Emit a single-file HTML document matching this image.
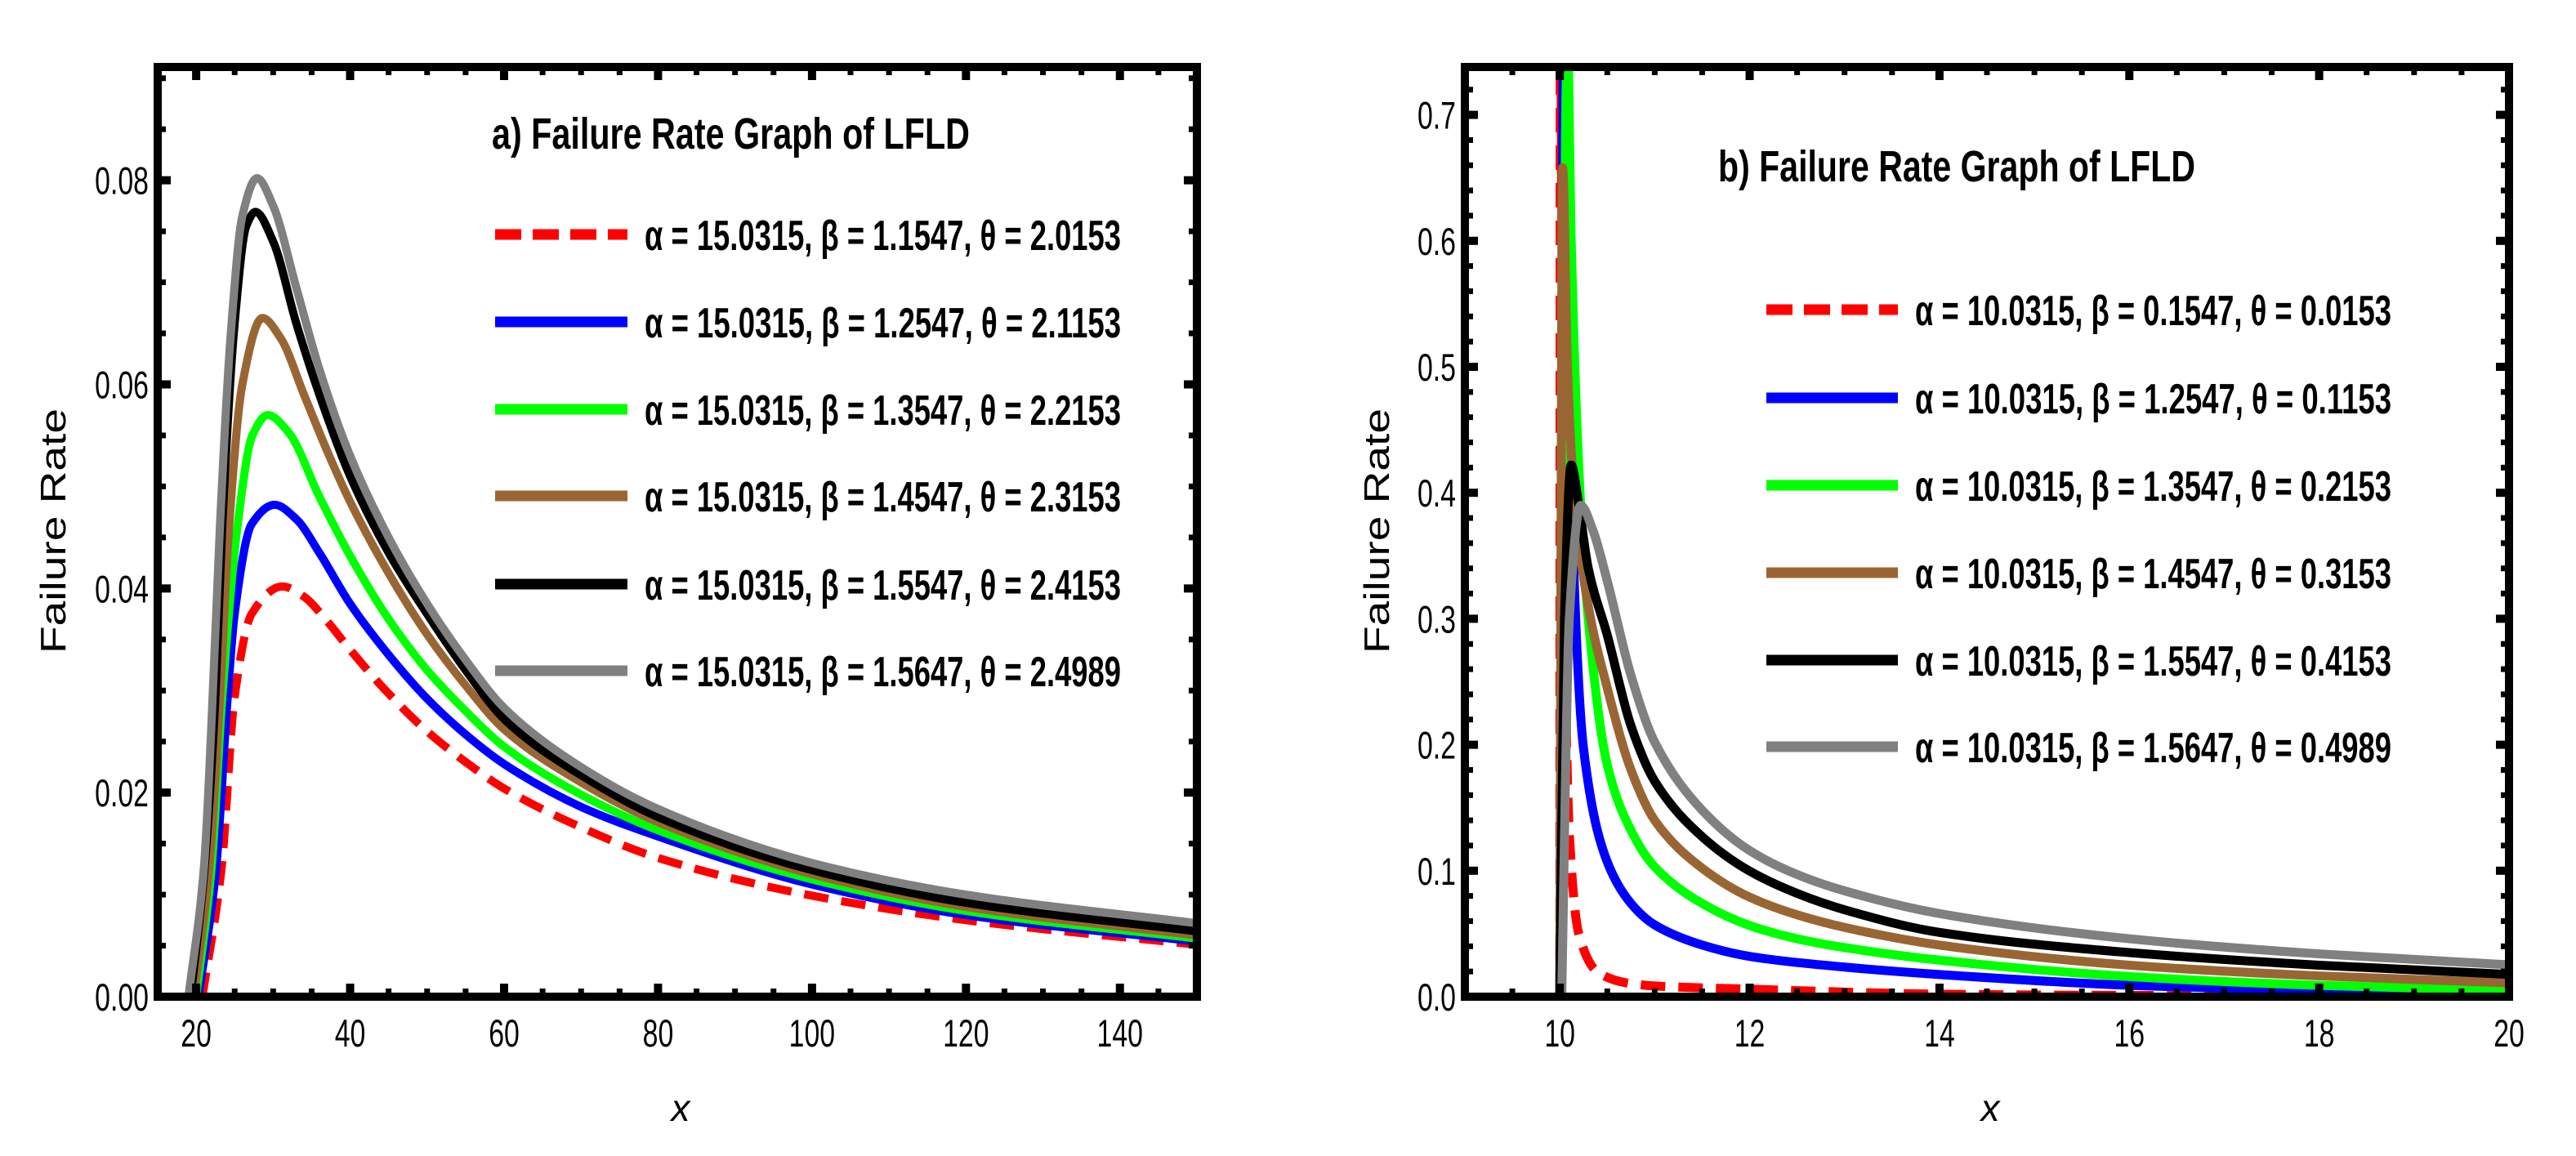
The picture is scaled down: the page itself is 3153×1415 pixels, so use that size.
<!DOCTYPE html>
<html><head><meta charset="utf-8"><style>
html,body{margin:0;padding:0;background:#fff;}
svg{display:block;}
text{font-family:"Liberation Sans",sans-serif;}
</style></head><body>
<svg id="chart" width="3153" height="1415" viewBox="0 0 3153 1415" xmlns="http://www.w3.org/2000/svg">
<rect width="3153" height="1415" fill="#fff"/>
</svg>
<script>
// ---- Panel a data ----
const aSeriesLabels = ["α = 15.0315, β = 1.1547, θ = 2.0153","α = 15.0315, β = 1.2547, θ = 2.1153","α = 15.0315, β = 1.3547, θ = 2.2153","α = 15.0315, β = 1.4547, θ = 2.3153","α = 15.0315, β = 1.5547, θ = 2.4153","α = 15.0315, β = 1.5647, θ = 2.4989"];
const aRed = [[20.8,0],[23.3,0.0126],[25,0.0294],[27.2,0.0375],[31.2,0.0402],[34,0.0392],[37,0.0368],[40,0.034],[45,0.0297],[50,0.026],[55,0.023],[60,0.0204],[70,0.0166],[80,0.0136],[100,0.0099],[120,0.0075],[150,0.0051]];
const aBlue = [[20.3,0],[22.6,0.0126],[24.1,0.0294],[25,0.0375],[27.2,0.0463],[30.2,0.0482],[33,0.0468],[36,0.0435],[40,0.0385],[45,0.0335],[50,0.0292],[55,0.0257],[60,0.0228],[70,0.0186],[80,0.0157],[100,0.011],[120,0.008],[150,0.0054]];
const aGreen = [[20,0],[22,0.0126],[23.4,0.0294],[25.4,0.0463],[27.3,0.055],[29.3,0.057],[32,0.0553],[36,0.049],[40,0.0432],[45,0.037],[50,0.032],[55,0.028],[60,0.0245],[70,0.0198],[80,0.0163],[100,0.0115],[120,0.0084],[150,0.0057]];
const aBrown = [[19.7,0],[21.7,0.0126],[23.1,0.0294],[24.3,0.0463],[26,0.06],[28.6,0.0665],[31,0.0645],[34,0.059],[37,0.0535],[40,0.0485],[45,0.0415],[50,0.0355],[55,0.0305],[60,0.0262],[70,0.021],[80,0.0171],[100,0.012],[120,0.0088],[150,0.006]];
const aBlack = [[19.3,0],[21.1,0.0126],[22.5,0.0294],[23.4,0.0463],[25,0.066],[26.5,0.0755],[27.7,0.0769],[30,0.074],[33,0.066],[36,0.059],[40,0.051],[45,0.0435],[50,0.0375],[55,0.032],[60,0.0272],[70,0.0217],[80,0.0176],[100,0.0124],[120,0.0092],[150,0.0064]];
const aGray = [[19,0],[21,0.0126],[22.6,0.0375],[23.1,0.0463],[24.5,0.065],[26,0.0765],[27.9,0.0802],[30,0.0775],[33,0.0695],[36,0.0615],[40,0.053],[45,0.045],[50,0.0385],[55,0.033],[60,0.0283],[70,0.0225],[80,0.0184],[100,0.0131],[120,0.01],[150,0.0072]];
const aXTicks = [20,40,60,80,100,120,140];
const aYTicks = [0,0.02,0.04,0.06,0.08];
const aYTickLabels = ["0.00","0.02","0.04","0.06","0.08"];
// ---- Panel b data ----
const bSeriesLabels = ["α = 10.0315, β = 0.1547, θ = 0.0153","α = 10.0315, β = 1.2547, θ = 0.1153","α = 10.0315, β = 1.3547, θ = 0.2153","α = 10.0315, β = 1.4547, θ = 0.3153","α = 10.0315, β = 1.5547, θ = 0.4153","α = 10.0315, β = 1.5647, θ = 0.4989"];
const bRed = [[10,0],[10.005,0.78],[10.03,0.5],[10.06,0.25],[10.1,0.13],[10.2,0.05],[10.4,0.0195],[10.7,0.011],[11,0.0085],[12,0.006],[14,0.002],[16,0.001],[20,0.0005]];
const bBlue = [[10,0],[10.04,0.75],[10.07,0.6],[10.12,0.4],[10.25,0.197],[10.5,0.107],[10.75,0.074],[11,0.057],[11.5,0.041],[12,0.032],[13,0.0235],[14,0.0176],[16,0.009],[18,0.0045],[20,0.002]];
const bGreen = [[10,0],[10.08,0.76],[10.12,0.6],[10.2,0.42],[10.3,0.3],[10.5,0.184],[10.75,0.132],[11,0.103],[11.5,0.074],[12,0.0565],[12.5,0.046],[13,0.039],[14,0.029],[16,0.016],[18,0.009],[20,0.005]];
const bBrown = [[10,0],[10.03,0.658],[10.08,0.5],[10.15,0.4],[10.3,0.31],[10.5,0.245],[10.75,0.18],[11,0.14],[11.5,0.102],[12,0.079],[12.5,0.065],[13,0.055],[14,0.041],[16,0.025],[18,0.0165],[20,0.011]];
const bBlack = [[10,0],[10.05,0.3],[10.12,0.422],[10.2,0.39],[10.3,0.34],[10.5,0.287],[10.75,0.215],[11,0.171],[11.5,0.127],[12,0.0997],[12.5,0.082],[13,0.069],[14,0.051],[16,0.035],[18,0.025],[20,0.0177]];
const bGray = [[10.02,0],[10.1,0.3],[10.22,0.39],[10.35,0.37],[10.5,0.33],[10.75,0.255],[11,0.202],[11.5,0.148],[12,0.116],[12.5,0.097],[13,0.084],[14,0.066],[16,0.046],[18,0.034],[20,0.0253]];
const bXTicks = [10,12,14,16,18,20];
const bYTicks = [0,0.1,0.2,0.3,0.4,0.5,0.6,0.7];
const bYTickLabels = ["0.0","0.1","0.2","0.3","0.4","0.5","0.6","0.7"];

const colors = ["#ff0000","#0000ff","#00ff00","#996633","#000000","#808080"];
const NS = "http://www.w3.org/2000/svg";
const svg = document.getElementById('chart');
function mk(tag, attrs, parent){const e=document.createElementNS(NS,tag);for(const k in attrs)e.setAttribute(k,attrs[k]);(parent||svg).appendChild(e);return e;}

function monoPath(pts, sx, sy){
  const P=pts.map(p=>[sx(p[0]),sy(p[1])]);
  const n=P.length; if(n<2) return '';
  const d=[],h=[],m=[];
  for(let i=0;i<n-1;i++){ h.push(P[i+1][0]-P[i][0]); d.push((P[i+1][1]-P[i][1])/h[i]); }
  m[0]=d[0]; m[n-1]=d[n-2];
  for(let i=1;i<n-1;i++){
    if(d[i-1]*d[i]<=0){m[i]=0;continue;}
    const w1=2*h[i]+h[i-1], w2=h[i]+2*h[i-1];
    m[i]=(w1+w2)/(w1/d[i-1]+w2/d[i]);
  }
  let s='M'+P[0][0].toFixed(2)+','+P[0][1].toFixed(2);
  for(let i=0;i<n-1;i++){const k=h[i]/3;
    s+=' C'+(P[i][0]+k).toFixed(2)+','+(P[i][1]+m[i]*k).toFixed(2)+' '+(P[i+1][0]-k).toFixed(2)+','+(P[i+1][1]-m[i+1]*k).toFixed(2)+' '+P[i+1][0].toFixed(2)+','+P[i+1][1].toFixed(2);}
  return s;
}
function txt(str,x,y,size,opts,parent){
  opts=opts||{};
  const t=mk('text',{x:0,y:0,'font-size':size,'text-anchor':opts.anchor||'start',fill:'#000',
    transform:'translate('+x+','+y+')'+(opts.rot?' rotate('+opts.rot+')':'')+' scale('+(opts.sx||1)+',1)'},parent);
  if(opts.weight) t.setAttribute('font-weight',opts.weight);
  if(opts.italic) t.setAttribute('font-style','italic');
  if(opts.len){t.setAttribute('textLength',opts.len);t.setAttribute('lengthAdjust','spacingAndGlyphs');}
  t.textContent=str; return t;
}

function panel(cfg){
  const g=mk('g',{});
  
  
  const sx=v=>cfg.L+(v-cfg.xmin)/(cfg.xmax-cfg.xmin)*(cfg.R-cfg.L);
  const sy=v=>cfg.B-(v-cfg.ymin)/(cfg.ymax-cfg.ymin)*(cfg.B-cfg.T);
  const cid='clip-'+cfg.name;
  const cp=mk('clipPath',{id:cid},g); mk('rect',{x:cfg.L,y:cfg.T,width:cfg.R-cfg.L,height:cfg.B-cfg.T},cp);
  const cg=mk('g',{'clip-path':'url(#'+cid+')'},g);
  cfg.series.forEach((s,i)=>{
    const p=mk('path',{d:monoPath(s,sx,sy),fill:'none',stroke:colors[i],'stroke-width':cfg.lw,'stroke-linejoin':'round'},cg);
    if(i===0) p.setAttribute('stroke-dasharray','30 16');
    
    
  });
  const tg=mk('g',{stroke:'#000'},g);
  
  
  for(let v=cfg.xmin;v<=cfg.xmax+1e-9;v+=cfg.xminor){
    const major=Math.abs(v/cfg.xmajor-Math.round(v/cfg.xmajor))<1e-6;
    const len=major?16:10,w=major?10:7,x=sx(v);
    mk('line',{x1:x,y1:cfg.B,x2:x,y2:cfg.B-len,'stroke-width':w},tg);
    mk('line',{x1:x,y1:cfg.T,x2:x,y2:cfg.T+len,'stroke-width':w},tg);
  }
  for(let v=cfg.ymin;v<=cfg.ymax+1e-9;v+=cfg.yminor){
    const major=Math.abs(v/cfg.ymajor-Math.round(v/cfg.ymajor))<1e-6;
    const len=major?16:10,w=major?10:7,y=sy(v);
    mk('line',{x1:cfg.L,y1:y,x2:cfg.L+len,y2:y,'stroke-width':w},tg);
    mk('line',{x1:cfg.R,y1:y,x2:cfg.R-len,y2:y,'stroke-width':w},tg);
  }
  const fr=mk('rect',{x:cfg.L,y:cfg.T,width:cfg.R-cfg.L,height:cfg.B-cfg.T,fill:'none',stroke:'#000','stroke-width':10},g);
  
  
  cfg.xticks.forEach(v=>{const t=txt(String(v),sx(v),1281,47,{anchor:'middle',sx:0.72},g);
    
    });
  cfg.yticks.forEach((v,i)=>{const t=txt(cfg.ylabels[i],cfg.L-11,sy(v)+17,47,{anchor:'end',sx:0.72},g);
    
    });
  const xl=txt('x',(cfg.L+cfg.R)/2+4,1372,46,{anchor:'middle',italic:true},g);
  
  
  const yl=txt('Failure Rate',cfg.yTitleX,650,44,{anchor:'middle',rot:-90,len:300},g);
  
  
  const tt=txt(cfg.title,cfg.titleX,cfg.titleY,54,{weight:'bold',len:cfg.titleLen},g);
  
  
  cfg.legendY.forEach((y,i)=>{
    const lg=mk('g',{},g);
    
    
    const ln=mk('line',{x1:cfg.legX1,y1:y,x2:cfg.legX2,y2:y,stroke:colors[i],'stroke-width':13},lg);
    if(i===0) ln.setAttribute('stroke-dasharray','32 14');
    txt(cfg.labels[i],cfg.legTX,y+19,52,{weight:'bold',len:cfg.legTLen},lg);
  });
}
const keys=['red','blue','green','brown','black','gray'];
panel({name:'panel-a',L:193,R:1465,T:82,B:1220,xmin:15,xmax:150,ymin:0,ymax:0.0911,
  xmajor:20,xminor:5,ymajor:0.02,yminor:0.005,lw:10,
  series:[aRed,aBlue,aGreen,aBrown,aBlack,aGray],keys:keys,labels:aSeriesLabels,
  xticks:aXTicks,yticks:aYTicks,ylabels:aYTickLabels,yTitleX:80,
  title:'a) Failure Rate Graph of LFLD',titleX:602,titleY:182,titleLen:585,
  legendY:[287,394,501,607,715,821],legX1:606,legX2:768,legTX:789,legTLen:583});
panel({name:'panel-b',L:1793,R:3071,T:82,B:1220,xmin:9,xmax:20,ymin:0,ymax:0.738,
  xmajor:2,xminor:0.5,ymajor:0.1,yminor:0.02,lw:11,
  series:[bRed,bBlue,bGreen,bBrown,bBlack,bGray],keys:keys,labels:bSeriesLabels,
  xticks:bXTicks,yticks:bYTicks,ylabels:bYTickLabels,yTitleX:1700,
  title:'b) Failure Rate Graph of LFLD',titleX:2103,titleY:222,titleLen:584,
  legendY:[379,487,594,701,808,914],legX1:2162,legX2:2323,legTX:2344,legTLen:583});
</script>
</body></html>
